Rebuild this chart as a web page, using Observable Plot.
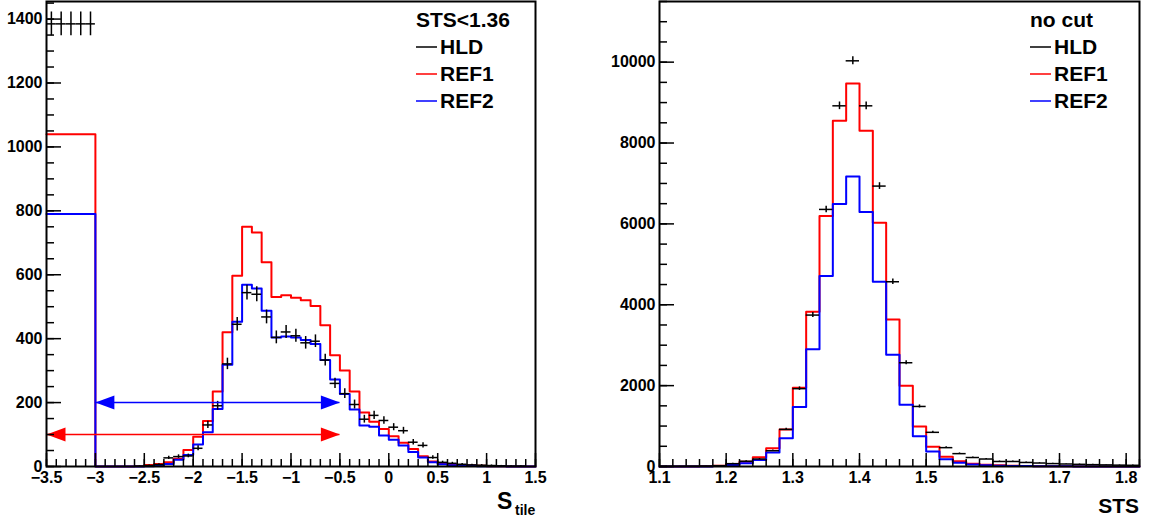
<!DOCTYPE html>
<html><head><meta charset="utf-8">
<script src="https://cdn.jsdelivr.net/npm/d3@7"></script>
<script src="https://cdn.jsdelivr.net/npm/@observablehq/plot@0.6"></script>
<style>
html,body{margin:0;padding:0;background:#fff;}
#wrap{position:relative;width:1153px;height:519px;overflow:hidden;background:#fff;}
#wrap > svg{position:absolute;top:0;}
#overlay{left:0;pointer-events:none;}
#overlay text{font-family:"Liberation Sans",Arial,Helvetica,sans-serif;font-weight:bold;fill:#000;}
</style></head>
<body><div id="wrap"></div>
<script>
// ---------- Left panel: S_tile, cut STS<1.36 (bins of 0.1 from -3.5) ----------
const leftX0 = -3.5, leftBinW = 0.1;
const leftHLD = [1385,1385,1385,1385,1385, 0,0,0,0,1, 3,6,27,31,33, 57,130,190,321,445,
  544,539,468,404,421, 409,387,392,333,260, 228,194,148,160,144, 123,112,76,66,28,
  13,10,7,5,4, 3,2,1,1,0];
const leftREF1 = [1040,1040,1040,1040,1040, 0,0,0,0,1, 5,8,13,24,52, 93,142,235,420,597,
  750,732,639,530,536, 528,520,502,442,348, 300,235,169,140,117, 95,74,55,32,16,
  9,6,4,3,2, 1,1,0,0,0];
const leftREF2 = [790,790,790,790,790, 0,0,0,0,0, 1,3,8,21,36, 69,107,180,318,453,
  569,557,487,404,407, 404,396,383,333,272, 227,178,128,124,97, 84,66,45,28,13,
  7,4,3,2,1, 1,1,0,0,0];
const leftXDomain = [-3.5, 1.5], leftYDomain = [0, 1455];
const leftXTicks = [-3.5,-3,-2.5,-2,-1.5,-1,-0.5,0,0.5,1,1.5];
const leftYTicks = [0,200,400,600,800,1000,1200,1400];
const leftArrows = [
  {series: "REF2", y: 200, x1: -3.0, x2: -0.5},
  {series: "REF1", y: 100, x1: -3.5, x2: -0.5}
];

// ---------- Right panel: STS, no cut (bins of 0.02 from 1.10) ----------
const rightX0 = 1.1, rightBinW = 0.02;
const rightHLD = [2,4,6,10,20, 70,130,185,390,918, 1925,3745,6358,8920,10033,
  8920,6935,4569,2566,1485, 845,466,318,222,185, 124,124,100,86,72, 62,54,46,40,34,30];
const rightREF1 = [0,1,2,5,20, 62,120,227,449,918, 1949,3828,6193,8549,9473,
  8302,6028,3638,1998,990, 490,243,130,70,45, 28,18,12,8,6, 4,3,2,2,1,1];
const rightREF2 = [0,0,1,3,12, 37,78,161,345,697, 1470,2897,4710,6490,7171,
  6292,4569,2762,1528,750, 370,180,90,50,30, 20,14,10,7,5, 4,3,2,2,1,1];
const rightXDomain = [1.1, 1.82], rightYDomain = [0, 11500];
const rightXTicks = [1.1,1.2,1.3,1.4,1.5,1.6,1.7,1.8];
const rightYTicks = [0,2000,4000,6000,8000,10000];

const colors = {HLD: "#000000", REF1: "#ff0000", REF2: "#0000ff"};
const legendLeft = {title: "STS<1.36", entries: ["HLD","REF1","REF2"]};
const legendRight = {title: "no cut", entries: ["HLD","REF1","REF2"]};

const H = 519, MT = 1, MB = 53;
const FONT = "'Liberation Sans', Arial, Helvetica, sans-serif";
const fmt = d => (d < 0 ? "\u2212" + String(Math.abs(d)) : String(d));

function stepPoints(values, x0, w) {
  const pts = values.map((v, i) => ({x: x0 + i * w, y: v}));
  pts.push({x: x0 + values.length * w, y: values[values.length - 1]});
  return pts;
}
function crossPoints(values, x0, w) {
  return values.map((v, i) => ({c: x0 + (i + 0.5) * w, xl: x0 + i * w, xr: x0 + (i + 1) * w,
    v, lo: Math.max(0, v - Math.sqrt(v)), hi: v + Math.sqrt(v)})).filter(d => d.v > 0);
}
const triRight = {draw(ctx) { ctx.moveTo(0, 0); ctx.lineTo(-19, -7); ctx.lineTo(-19, 7); ctx.closePath(); }};
const triLeft = {draw(ctx) { ctx.moveTo(0, 0); ctx.lineTo(19, -7); ctx.lineTo(19, 7); ctx.closePath(); }};

function panel(o) {
  const innerW = o.width - o.marginLeft - o.marginRight;
  const innerH = H - MT - MB;
  const xMinor = d3.range(0, Math.round((o.xDomain[1] - o.xDomain[0]) / o.xMinorStep) + 1)
    .map(i => o.xDomain[0] + i * o.xMinorStep);
  const yMinor = d3.range(0, Math.floor(o.yDomain[1] / o.yMinorStep) + 1).map(i => i * o.yMinorStep);
  const pts = crossPoints(o.hld, o.x0, o.bw);
  const marks = [
    Plot.line(stepPoints(o.ref1, o.x0, o.bw), {x: "x", y: "y", curve: "step-after", stroke: colors.REF1, strokeWidth: 2}),
    Plot.line(stepPoints(o.ref2, o.x0, o.bw), {x: "x", y: "y", curve: "step-after", stroke: colors.REF2, strokeWidth: 2}),
    Plot.ruleX(pts, {x: "c", y1: "lo", y2: "hi", stroke: colors.HLD, strokeWidth: 1.5}),
    Plot.ruleY(pts, {y: "v", x1: "xl", x2: "xr", stroke: colors.HLD, strokeWidth: 1.5})
  ];
  for (const a of (o.arrows || [])) {
    const c = colors[a.series];
    marks.push(Plot.ruleY([a], {y: "y", x1: "x1", x2: "x2", stroke: c, strokeWidth: 1.5}));
    marks.push(Plot.dot([a], {x: "x2", y: "y", symbol: triRight, r: 5, fill: c, stroke: "none"}));
    marks.push(Plot.dot([a], {x: "x1", y: "y", symbol: triLeft, r: 5, fill: c, stroke: "none"}));
  }
  marks.push(
    Plot.tickX(xMinor, {x: d => d, insetTop: innerH - 7, stroke: "#000", strokeWidth: 1.5}),
    Plot.tickX(o.xTicks, {x: d => d, insetTop: innerH - 13, stroke: "#000", strokeWidth: 1.5}),
    Plot.tickY(yMinor, {y: d => d, insetRight: innerW - 8, stroke: "#000", strokeWidth: 1.5}),
    Plot.tickY(o.yTicks, {y: d => d, insetRight: innerW - 15, stroke: "#000", strokeWidth: 1.5}),
    Plot.frame({stroke: "#000", strokeWidth: 2}),
    Plot.axisX(o.xTicks, {tickSize: 0, tickPadding: 5, tickFormat: fmt, label: null}),
    Plot.axisY(o.yTicks, {tickSize: 0, tickPadding: 4, tickFormat: fmt, label: null})
  );
  const svg = Plot.plot({
    width: o.width, height: H,
    marginLeft: o.marginLeft, marginRight: o.marginRight, marginTop: MT, marginBottom: MB,
    x: {domain: o.xDomain, label: null},
    y: {domain: o.yDomain, label: null},
    style: {fontFamily: FONT, fontSize: "16px", fontWeight: "bold", color: "#000", background: "transparent", overflow: "visible"},
    marks
  });
  svg.style.left = o.left + "px";
  return svg;
}

const wrap = document.getElementById("wrap");
wrap.appendChild(panel({
  left: 0, width: 556, marginLeft: 46, marginRight: 21,
  x0: leftX0, bw: leftBinW, hld: leftHLD, ref1: leftREF1, ref2: leftREF2,
  xDomain: leftXDomain, yDomain: leftYDomain, xTicks: leftXTicks, yTicks: leftYTicks,
  xMinorStep: 0.1, yMinorStep: 50, arrows: leftArrows
}));
wrap.appendChild(panel({
  left: 576, width: 577, marginLeft: 83, marginRight: 14,
  x0: rightX0, bw: rightBinW, hld: rightHLD, ref1: rightREF1, ref2: rightREF2,
  xDomain: rightXDomain, yDomain: rightYDomain, xTicks: rightXTicks, yTicks: rightYTicks,
  xMinorStep: 0.02, yMinorStep: 500
}));

// ---------- Overlay: legends and axis titles ----------
const NS = "http://www.w3.org/2000/svg";
const ov = document.createElementNS(NS, "svg");
ov.setAttribute("id", "overlay");
ov.setAttribute("width", 1153); ov.setAttribute("height", H);
wrap.appendChild(ov);
function txt(x, y, s, size, anchor) {
  const t = document.createElementNS(NS, "text");
  t.setAttribute("x", x); t.setAttribute("y", y);
  t.setAttribute("font-size", size);
  if (anchor) t.setAttribute("text-anchor", anchor);
  t.textContent = s; ov.appendChild(t); return t;
}
function seg(x1, x2, y, c) {
  const l = document.createElementNS(NS, "line");
  l.setAttribute("x1", x1); l.setAttribute("x2", x2); l.setAttribute("y1", y); l.setAttribute("y2", y);
  l.setAttribute("stroke", c); l.setAttribute("stroke-width", 1.5); ov.appendChild(l);
}
function legend(L, x) {
  txt(x, 27, L.title, 21);
  L.entries.forEach((e, i) => {
    const base = 54 + i * 27;
    seg(x, x + 21, base - 7, colors[e]);
    txt(x + 24, base, e, 21);
  });
}
legend(legendLeft, 416);
legend(legendRight, 1030);
txt(497, 509, "S", 23);
txt(515, 515, "tile", 14);
txt(1139, 513, "STS", 21, "end");
</script></body></html>
